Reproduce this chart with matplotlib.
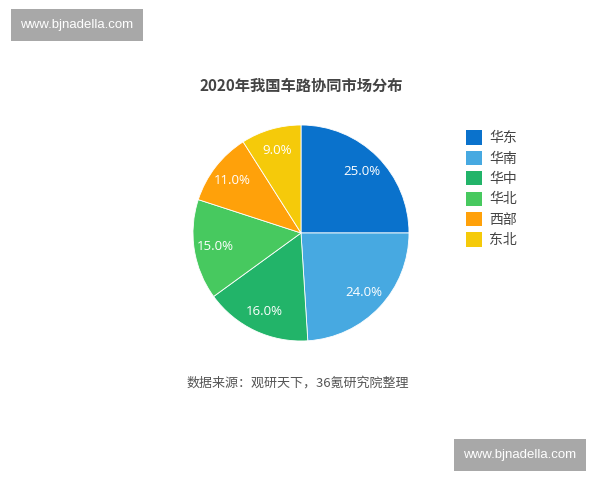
import numpy as np
import matplotlib.pyplot as plt
from matplotlib.patches import Patch

plt.rcParams['font.family'] = ['Noto Sans CJK SC', 'DejaVu Sans']

regions = ['华东', '华南', '华中', '华北', '西部', '东北']
shares = [25.0, 24.0, 16.0, 15.0, 11.0, 9.0]
colors = ['#0a72cc', '#47a9e1', '#22b469', '#47c95f', '#ffa10a', '#f5ca0a']

title = '2020年我国车路协同市场分布'
source = '数据来源：观研天下，36氪研究院整理'
watermark = 'www.bjnadella.com'

fig = plt.figure(figsize=(6, 4.8), dpi=100)
fig.patch.set_facecolor('white')

# pie centred at ~(301, 233) px with radius ~108 px
ax = fig.add_axes([(301 - 108) / 600, 1 - (233 + 108) / 480, 216 / 600, 216 / 480])
wedges, texts = ax.pie(shares, colors=colors, startangle=90, counterclock=False,
                       wedgeprops=dict(edgecolor='white', linewidth=0.6))
for w, v in zip(wedges, shares):
    ang = np.deg2rad((w.theta1 + w.theta2) / 2)
    ax.text(0.8 * np.cos(ang), 0.8 * np.sin(ang), f'{v:.1f}%', ha='center', va='center',
            color='white', fontsize=9.5, family='Open Sans')
ax.set_aspect('equal')
ax.set_xlim(-1, 1)
ax.set_ylim(-1, 1)

fig.text(301 / 600, 1 - 86 / 480, title, ha='center', va='center',
         fontsize=11, fontweight='bold', color='#444444')
fig.text(298 / 600, 1 - 383 / 480, source, ha='center', va='center',
         fontsize=9.4, color='#555555')

handles = [Patch(facecolor=c, edgecolor='none') for c in colors]
fig.legend(handles, regions, loc='upper left', bbox_to_anchor=(453 / 600, 1 - 118 / 480),
           frameon=False, fontsize=10, handlelength=1.2, handleheight=1.2,
           handletextpad=0.5, labelspacing=0.4, labelcolor='#444444')

# watermarks
wm_box = dict(boxstyle='square,pad=0.75', facecolor='#a8a8a8', edgecolor='none')
fig.text(77 / 600, 1 - 25 / 480, watermark, ha='center', va='center', color='white',
         fontsize=9.5, family='Liberation Sans', bbox=wm_box)
fig.text(520 / 600, 1 - 455 / 480, watermark, ha='center', va='center', color='white',
         fontsize=9.5, family='Liberation Sans', bbox=wm_box)

fig.savefig('out.png', dpi=100)
